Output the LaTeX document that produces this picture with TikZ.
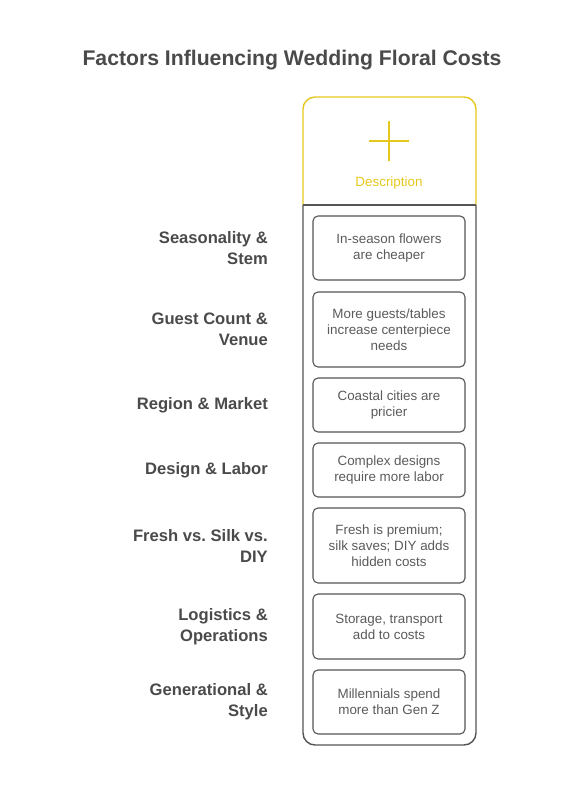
\documentclass[tikz,border=0pt]{standalone}
\usepackage{fontspec}
\setmainfont{Liberation Sans}
\usetikzlibrary{positioning}
\definecolor{inktext}{RGB}{74,74,74}
\definecolor{desctext}{RGB}{90,90,90}
\definecolor{boxline}{RGB}{85,85,85}
\definecolor{headyel}{RGB}{230,199,30}
\frenchspacing

\begin{document}
\begin{tikzpicture}[
  x=1pt,y=-1pt,
  font=\fontsize{13.4}{16}\selectfont,
  factor/.style={font=\bfseries\fontsize{16.6}{21}\selectfont,text=inktext,
                 align=right,anchor=east,inner sep=0pt},
  desc/.style={draw=boxline,line width=1.1pt,rounded corners=5pt,text=desctext,
               align=center,minimum width=152pt,inner sep=0pt},
  frame/.style={draw=boxline,line width=1.4pt}
]
\useasboundingbox (0,0) rectangle (584,800);

\node[font=\bfseries\fontsize{21.2}{25}\selectfont,text=inktext] (title) at (292,60)
  {Factors Influencing Wedding Floral Costs};

% column header
\draw[headyel,line width=1.4pt,rounded corners=12pt] (303,205) -- (303,97) -- (476,97) -- (476,205);
\draw[headyel,line width=1.4pt] (369,141) -- (409,141);
\draw[headyel,line width=1.4pt] (389,121) -- (389,161);
\node[text=headyel] (head) at (389,183) {Description};

% column body
\draw[frame,rounded corners=12pt] (303,205) -- (303,745) -- (476,745) -- (476,205);
\draw[frame] (303,205) -- (476,205);

\node[desc,minimum height=64pt] (d1) at (389,248) {In-season flowers\\are cheaper};
\node[desc,minimum height=75pt] (d2) at (389,329.5) {More guests/tables\\increase centerpiece\\needs};
\node[desc,minimum height=54pt] (d3) at (389,405) {Coastal cities are\\pricier};
\node[desc,minimum height=54pt] (d4) at (389,470) {Complex designs\\require more labor};
\node[desc,minimum height=75pt] (d5) at (389,545.5) {Fresh is premium;\\silk saves; DIY adds\\hidden costs};
\node[desc,minimum height=65pt] (d6) at (389,626.5) {Storage, transport\\add to costs};
\node[desc,minimum height=64pt] (d7) at (389,702) {Millennials spend\\more than Gen Z};

\node[factor] (f1) at (268,248) {Seasonality \&\\Stem};
\node[factor] (f2) at (268,329.5) {Guest Count \&\\Venue};
\node[factor] (f3) at (268,405) {Region \& Market};
\node[factor] (f4) at (268,470) {Design \& Labor};
\node[factor] (f5) at (268,545.5) {Fresh vs. Silk vs.\\DIY};
\node[factor] (f6) at (268,626.5) {Logistics \&\\Operations};
\node[factor] (f7) at (268,702) {Generational \&\\Style};
\end{tikzpicture}
\end{document}
